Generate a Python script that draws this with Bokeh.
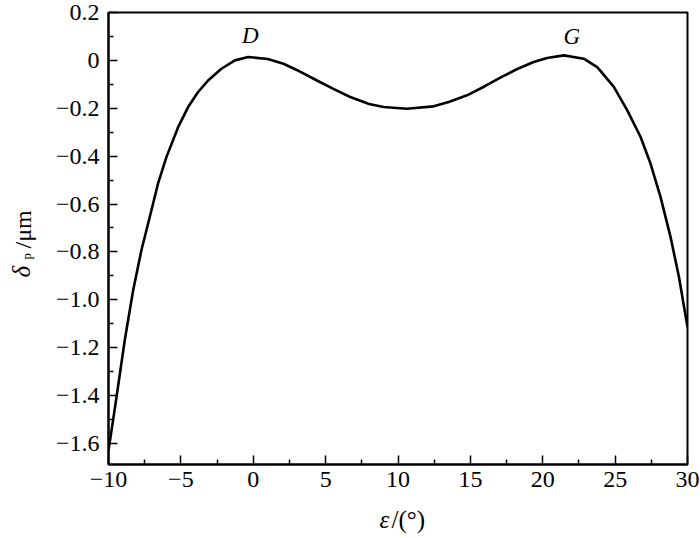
import math
from bokeh.plotting import figure
from bokeh.layouts import row, column
from bokeh.models import Range1d, FixedTicker, CustomJSTickFormatter, Label
from bokeh.embed import file_html
from bokeh.resources import INLINE

# data
eps = [-10, -9.43, -8.88, -8.30, -7.73, -7.15, -6.58, -6.0, -5.19, -4.5, -3.81, -3.12,
       -2.2, -1.27, -0.35, 1.0, 2.09, 3.0, 4.4, 5.5, 6.7, 8.0, 9.0, 10.6, 12.46, 13.5,
       14.77, 16.0, 17.07, 18.2, 19.37, 20.3, 21.45, 22.83, 23.76, 24.0, 24.91, 25.84,
       26.76, 27.45, 28.14, 28.83, 29.41, 30]
delta_p = [-1.630, -1.400, -1.170, -0.961, -0.794, -0.654, -0.515, -0.404, -0.279, -0.195,
           -0.132, -0.084, -0.035, 0.000, 0.014, 0.006, -0.014, -0.040, -0.084, -0.118,
           -0.153, -0.182, -0.195, -0.202, -0.192, -0.174, -0.146, -0.108, -0.072, -0.037,
           -0.007, 0.010, 0.021, 0.007, -0.028, -0.045, -0.111, -0.209, -0.320, -0.432,
           -0.571, -0.738, -0.905, -1.114]

x_ticks = [-10, -5, 0, 5, 10, 15, 20, 25, 30]
x_minor = [-7.5, -2.5, 2.5, 7.5, 12.5, 17.5, 22.5, 27.5]
y_ticks = [0.2, 0.0, -0.2, -0.4, -0.6, -0.8, -1.0, -1.2, -1.4, -1.6]
y_minor = [0.1, -0.1, -0.3, -0.5, -0.7, -0.9, -1.1, -1.3, -1.5]

point_labels = ["D", "G"]
point_x = [-0.2, 22.0]
point_y = [0.102, 0.100]

FONT = "Liberation Serif"


def blank(width, height):
    f = figure(width=width, height=height, output_backend="svg", toolbar_location=None,
               x_range=Range1d(0, 1), y_range=Range1d(0, 1),
               x_axis_type=None, y_axis_type=None, min_border=0)
    f.outline_line_color = None
    f.background_fill_color = "white"
    f.border_fill_color = "white"
    return f


# main plot
p = figure(width=660, height=500, output_backend="svg", toolbar_location=None,
           x_range=Range1d(-10, 30), y_range=Range1d(-1.688, 0.2),
           min_border_left=68, min_border_right=13, min_border_top=12, min_border_bottom=36)
p.background_fill_color = "white"
p.border_fill_color = "white"
p.outline_line_color = "black"
p.outline_line_width = 2
p.xgrid.visible = False
p.ygrid.visible = False

p.line(eps, delta_p, line_color="black", line_width=2.6, line_join="round")

for ax, ticks, minor in ((p.xaxis[0], x_ticks, x_minor), (p.yaxis[0], y_ticks, y_minor)):
    ax.ticker = FixedTicker(ticks=ticks, minor_ticks=minor)
    ax.axis_line_width = 2
    ax.axis_line_color = "black"
    ax.major_tick_in = 9
    ax.major_tick_out = 0
    ax.minor_tick_in = 5
    ax.minor_tick_out = 0
    ax.major_tick_line_width = 1.5
    ax.minor_tick_line_width = 1.5
    ax.major_label_text_font = FONT
    ax.major_label_text_font_size = "24px"
    ax.major_label_text_color = "black"

p.xaxis[0].major_label_standoff = 7
p.yaxis[0].major_label_standoff = 9
p.xaxis[0].formatter = CustomJSTickFormatter(code="""
    if (Math.abs(tick) < 1e-9) return "0";
    return (tick < 0 ? "\u2212" : "") + Math.abs(tick).toFixed(0);
""")
p.yaxis[0].formatter = CustomJSTickFormatter(code="""
    if (Math.abs(tick) < 1e-9) return "0";
    return (tick < 0 ? "\u2212" : "") + Math.abs(tick).toFixed(1);
""")

for t, x, y in zip(point_labels, point_x, point_y):
    p.add_layout(Label(x=x, y=y, text=t, text_font=FONT, text_font_style="italic",
                       text_font_size="23px", text_align="center", text_baseline="middle",
                       text_color="black"))

# y axis title strip: δp/μm (rotated, reads bottom to top)
ylab = blank(40, 538)
ang = math.pi / 2
ylab.add_layout(Label(x=21, y=538 - 277, x_units="screen", y_units="screen", text="δ",
                      text_font=FONT, text_font_style="italic", text_font_size="25px",
                      text_color="black",
                      text_align="left", text_baseline="alphabetic", angle=ang))
ylab.add_layout(Label(x=25.5, y=538 - 259, x_units="screen", y_units="screen", text="p",
                      text_font=FONT, text_font_size="13px", text_color="black",
                      text_align="left", text_baseline="alphabetic", angle=ang))
ylab.add_layout(Label(x=22, y=538 - 248, x_units="screen", y_units="screen", text="/μm",
                      text_font=FONT, text_font_size="24px", text_color="black",
                      text_align="left", text_baseline="alphabetic", angle=ang))

# x axis title strip: ε/(°)  (its frame is aligned with the main frame)
xlab = blank(660, 38)
xlab.add_layout(Label(x=271, y=19, x_units="screen", y_units="screen", text="ε",
                      text_font=FONT, text_font_style="italic", text_font_size="25px",
                      text_color="black",
                      text_align="left", text_baseline="alphabetic"))
xlab.add_layout(Label(x=283, y=19, x_units="screen", y_units="screen", text="/(°)",
                      text_font=FONT, text_font_size="25px", text_color="black",
                      text_align="left", text_baseline="alphabetic"))

layout = row(ylab, column(p, xlab, spacing=0), spacing=0)

open("out.html", "w").write(file_html(layout, INLINE))
